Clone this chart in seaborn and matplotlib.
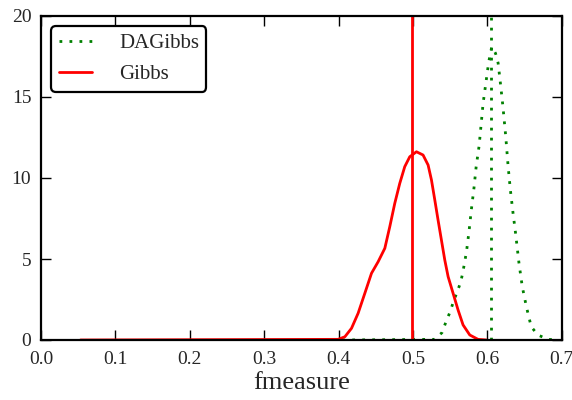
"""Density of fmeasure for Gibbs and DAGibbs samplers."""

import matplotlib
matplotlib.use("Agg")
import matplotlib.pyplot as plt
import pandas as pd
import seaborn as sns

# values
gibbs_x = [0.053, 0.3995, 0.4085, 0.4174, 0.4263, 0.4353, 0.4443, 0.4532, 0.4622,
           0.4689, 0.4756, 0.4823, 0.489, 0.4957, 0.5047, 0.5136, 0.5204, 0.5249,
           0.5294, 0.5338, 0.5383, 0.5428, 0.5473, 0.554, 0.5607, 0.5674, 0.5764,
           0.5875, 0.599]
gibbs_y = [0.0, 0.04, 0.2, 0.72, 1.65, 2.88, 4.12, 4.83, 5.66,
           7.0, 8.44, 9.67, 10.7, 11.31, 11.62, 11.42, 10.8, 9.88,
           8.64, 7.4, 6.17, 4.94, 3.91, 2.88, 1.85, 0.93, 0.31,
           0.04, 0.0]

dagibbs_x = [0.405, 0.529, 0.539, 0.544, 0.5495, 0.554, 0.559, 0.564, 0.567, 0.572,
             0.5755, 0.5786, 0.582, 0.585, 0.589, 0.5943, 0.598, 0.602, 0.606, 0.611,
             0.6145, 0.6176, 0.621, 0.6248, 0.628, 0.631, 0.6346, 0.638, 0.6426, 0.647,
             0.6525, 0.659, 0.668, 0.6815, 0.695]
dagibbs_y = [0.0, 0.04, 0.45, 1.07, 1.69, 2.3, 2.92, 3.54, 4.15, 5.45,
             6.75, 8.07, 9.36, 10.7, 12.0, 14.6, 15.85, 17.2, 18.1, 17.7,
             17.1, 15.85, 14.4, 12.55, 10.7, 9.26, 7.82, 6.58, 4.73, 3.29,
             2.06, 0.82, 0.31, 0.04, 0.0]

# mean fmeasure of each sampler (vertical markers)
gibbs_mean = 0.4985
dagibbs_mean = 0.605

x_ticks = [0.0, 0.1, 0.2, 0.3, 0.4, 0.5, 0.6, 0.7]
y_ticks = [0, 5, 10, 15, 20]

sns.set_style("ticks")
plt.rcParams["font.family"] = ["Liberation Serif", "DejaVu Serif"]

gibbs = pd.DataFrame({"fmeasure": gibbs_x, "density": gibbs_y})
dagibbs = pd.DataFrame({"fmeasure": dagibbs_x, "density": dagibbs_y})

fig = plt.figure(figsize=(5.72, 4.0), dpi=100)
ax = fig.add_axes([0.0717, 0.15, 0.9103, 0.81])

dotted = (0, (1, 2.6))
sns.lineplot(data=dagibbs, x="fmeasure", y="density", ax=ax, color="green",
             linestyle=dotted, linewidth=2.0, estimator=None, label="DAGibbs")
sns.lineplot(data=gibbs, x="fmeasure", y="density", ax=ax, color="red",
             linewidth=2.0, estimator=None, label="Gibbs",
             solid_joinstyle="round")
ax.axvline(dagibbs_mean, color="green", linestyle=dotted, linewidth=2.0)
ax.axvline(gibbs_mean, color="red", linewidth=2.0)

ax.set_xlim(0.0, 0.7)
ax.set_ylim(0, 20)
ax.set_xticks(x_ticks)
ax.set_xticklabels([f"{t:.1f}" for t in x_ticks])
ax.set_yticks(y_ticks)
ax.set_xlabel("fmeasure", fontsize=19, labelpad=3)
ax.set_ylabel("")

for side in ax.spines.values():
    side.set_linewidth(1.6)
    side.set_color("black")
ax.tick_params(direction="in", length=7, width=1.0, labelsize=14,
               top=True, right=True, color="black")
ax.tick_params(axis="x", pad=8)
ax.tick_params(axis="y", pad=7)

leg = ax.legend(loc="upper left", fontsize=15, fancybox=True, framealpha=1,
                handlelength=1.6, handletextpad=1.3, borderaxespad=0.5,
                borderpad=0.35, labelspacing=0.55)
leg.get_frame().set_edgecolor("black")
leg.get_frame().set_linewidth(1.6)

fig.savefig("out.png", dpi=100)
